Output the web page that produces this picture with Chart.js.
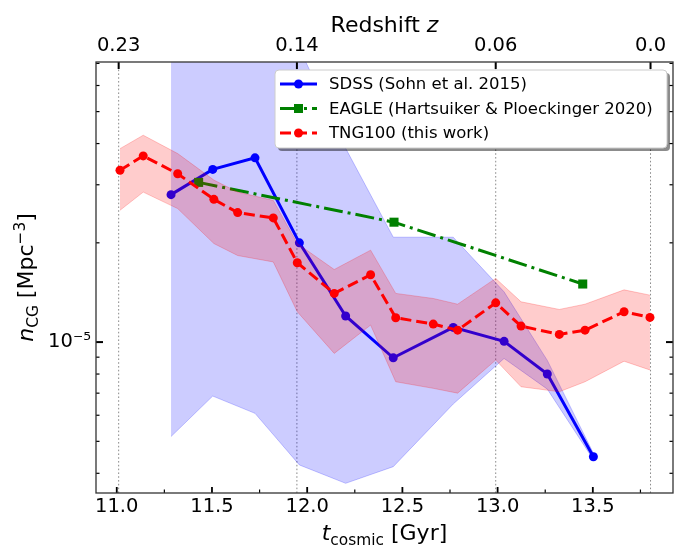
<!DOCTYPE html>
<html>
<head>
<meta charset="utf-8">
<script src="https://cdn.jsdelivr.net/npm/chart.js@4.4.1/dist/chart.umd.min.js"></script>
<style>
  html, body { margin: 0; padding: 0; background: #fff; }
  canvas { display: block; }
</style>
</head>
<body>
<canvas id="cgChart" width="675" height="547"></canvas>
<script>
// values (t in Gyr, n in Mpc^-3)
const tSDSS = [11.285, 11.504, 11.726, 11.959, 12.202, 12.452, 12.767, 13.034, 13.261, 13.503];
const nSDSS = [2.80e-5, 3.34e-5, 3.62e-5, 2.00e-5, 1.20e-5, 8.96e-6, 1.108e-5, 1.005e-5, 8.0e-6, 4.49e-6];
const nSDSSlo = [5.17e-6, 6.86e-6, 6.08e-6, 4.24e-6, 3.73e-6, 4.19e-6, 6.49e-6, 8.92e-6, 7.2e-6, 4.4e-6];
const nSDSShi = [1.5e-4, 1.5e-4, 1.5e-4, 7.8e-5, 3.87e-5, 2.08e-5, 2.08e-5, 1.42e-5, 8.8e-6, 4.6e-6];

const tEAGLE = [11.43, 12.456, 13.447];
const nEAGLE = [3.05e-5, 2.31e-5, 1.50e-5];

const tTNG = [11.017, 11.139, 11.32, 11.51, 11.635, 11.822, 11.948, 12.142, 12.333, 12.465, 12.662, 12.79, 12.99, 13.123, 13.324, 13.459, 13.664, 13.80];
const nTNG = [3.32e-5, 3.67e-5, 3.24e-5, 2.71e-5, 2.47e-5, 2.38e-5, 1.74e-5, 1.405e-5, 1.60e-5, 1.185e-5, 1.134e-5, 1.087e-5, 1.315e-5, 1.118e-5, 1.055e-5, 1.087e-5, 1.236e-5, 1.188e-5];
const nTNGhi = [3.86e-5, 4.24e-5, 3.73e-5, 3.1e-5, 2.85e-5, 2.69e-5, 1.99e-5, 1.66e-5, 1.90e-5, 1.405e-5, 1.356e-5, 1.303e-5, 1.56e-5, 1.325e-5, 1.256e-5, 1.303e-5, 1.44e-5, 1.388e-5];
const nTNGlo = [2.51e-5, 2.85e-5, 2.54e-5, 1.99e-5, 1.83e-5, 1.75e-5, 1.236e-5, 9.24e-6, 1.126e-5, 7.58e-6, 7.24e-6, 7.0e-6, 8.82e-6, 7.32e-6, 7.07e-6, 7.58e-6, 8.75e-6, 8.23e-6];

const seriesLabels = ['SDSS (Sohn et al. 2015)', 'EAGLE (Hartsuiker & Ploeckinger 2020)', 'TNG100 (this work)'];

const xTicks = [11.0, 11.5, 12.0, 12.5, 13.0, 13.5];
const xMinorTicks = [11.25, 11.75, 12.25, 12.75, 13.25, 13.75];
const zTickPos = [11.01, 11.946, 12.99, 13.803];
const zTickLabels = ['0.23', '0.14', '0.06', '0.0'];
const yTicks = [1e-5];
const yMinorTicks = [4e-6, 5e-6, 6e-6, 7e-6, 8e-6, 9e-6, 2e-5, 3e-5, 4e-5, 5e-5, 6e-5, 7e-5];

const FONT = '"DejaVu Sans", sans-serif';
const pts = (xs, ys) => xs.map((x, i) => ({ x: x, y: ys[i] }));
const sup = { '-': '\u207B', '0': '\u2070', '1': '\u00B9', '2': '\u00B2', '3': '\u00B3', '4': '\u2074', '5': '\u2075', '6': '\u2076', '7': '\u2077', '8': '\u2078', '9': '\u2079' };

function richText(ctx, parts, x, y) {
  let w = 0;
  parts.forEach(p => { ctx.font = p[2] + ' ' + p[1] + 'px ' + FONT; p.w = ctx.measureText(p[0]).width; w += p.w; });
  let cx = x - w / 2;
  ctx.textAlign = 'left';
  ctx.textBaseline = 'alphabetic';
  parts.forEach(p => { ctx.font = p[2] + ' ' + p[1] + 'px ' + FONT; ctx.fillText(p[0], cx, y + p[3]); cx += p.w; });
}

function line(ctx, x1, y1, x2, y2, w) {
  ctx.lineWidth = w;
  ctx.beginPath();
  ctx.moveTo(x1, y1);
  ctx.lineTo(x2, y2);
  ctx.stroke();
}

function roundRect(ctx, x, y, w, h, r) {
  ctx.beginPath();
  ctx.moveTo(x + r, y);
  ctx.arcTo(x + w, y, x + w, y + h, r);
  ctx.arcTo(x + w, y + h, x, y + h, r);
  ctx.arcTo(x, y + h, x, y, r);
  ctx.arcTo(x, y, x + w, y, r);
  ctx.closePath();
}

// no extra side padding from edge tick labels
function fixBox(size) {
  return s => {
    if (s.isHorizontal()) s.height = size; else s.width = size;
    s.paddingLeft = 0; s.paddingRight = 0; s.paddingTop = 0; s.paddingBottom = 0;
  };
}

const decor = {
  id: 'decor',
  beforeDatasetsDraw(chart) {
    const { ctx, chartArea: a, scales } = chart;
    ctx.save();
    ctx.strokeStyle = 'rgba(110,110,110,0.8)';
    ctx.setLineDash([1.6, 2.2]);
    zTickPos.forEach(v => {
      const px = scales.x2.getPixelForValue(v);
      line(ctx, px, a.top, px, a.bottom, 1);
    });
    ctx.restore();
  },
  afterDatasetsDraw(chart) {
    const { ctx, chartArea: a, scales } = chart;
    ctx.save();
    ctx.strokeStyle = '#000';
    xTicks.forEach(v => { const px = scales.x.getPixelForValue(v); line(ctx, px, a.bottom, px, a.bottom - 6, 1.8); });
    xMinorTicks.forEach(v => { const px = scales.x.getPixelForValue(v); line(ctx, px, a.bottom, px, a.bottom - 3.5, 1.2); });
    zTickPos.forEach(v => { const px = scales.x2.getPixelForValue(v); line(ctx, px, a.top, px, a.top + 7, 2); });
    yTicks.forEach(v => {
      const py = scales.y.getPixelForValue(v);
      line(ctx, a.left, py, a.left + 7, py, 2);
      line(ctx, a.right, py, a.right - 7, py, 2);
    });
    yMinorTicks.forEach(v => {
      const py = scales.y.getPixelForValue(v);
      line(ctx, a.left, py, a.left + 3.5, py, 1.2);
      line(ctx, a.right, py, a.right - 3.5, py, 1.2);
    });
    ctx.strokeStyle = '#333';
    ctx.lineWidth = 1.3;
    ctx.strokeRect(a.left, a.top, a.right - a.left, a.bottom - a.top);
    ctx.restore();
  },
  afterDraw(chart) {
    const { ctx, chartArea: a } = chart;
    const cx = (a.left + a.right) / 2;
    const cy = (a.top + a.bottom) / 2;
    ctx.save();
    ctx.fillStyle = '#000';
    richText(ctx, [['Redshift ', 22, 'normal', 0], ['z', 22, 'italic', 0]], cx, 31.7);
    richText(ctx, [['t', 22, 'italic', 0], ['cosmic', 15.4, 'normal', 4.6], [' [Gyr]', 22, 'normal', 0]], cx, 540);
    ctx.save();
    ctx.translate(33, cy);
    ctx.rotate(-Math.PI / 2);
    richText(ctx, [['n', 22, 'italic', 0], ['CG', 15.4, 'normal', 4.6], [' [Mpc', 22, 'normal', 0], ['\u22123', 15.4, 'normal', -8.5], [']', 22, 'normal', 0]], 0, 0);
    ctx.restore();

    // legend box
    const bx = 275, by = 70, bw = 392, bh = 78;
    ctx.fillStyle = 'rgba(0,0,0,0.45)';
    roundRect(ctx, bx + 3, by + 3, bw, bh, 4);
    ctx.fill();
    ctx.fillStyle = '#fff';
    ctx.strokeStyle = '#cccccc';
    ctx.lineWidth = 1;
    roundRect(ctx, bx, by, bw, bh, 4);
    ctx.fill();
    ctx.stroke();

    const rows = [
      { y: 84, color: '#0000ff', dash: [], marker: 'circle', text: seriesLabels[0] },
      { y: 108.5, color: '#008000', dash: [19, 5, 3, 5], marker: 'square', text: seriesLabels[1] },
      { y: 133, color: '#ff0000', dash: [11, 5], marker: 'circle', text: seriesLabels[2] }
    ];
    rows.forEach(r => {
      ctx.strokeStyle = r.color;
      ctx.fillStyle = r.color;
      ctx.setLineDash(r.dash);
      line(ctx, 280, r.y, 317, r.y, 3);
      ctx.setLineDash([]);
      if (r.marker === 'circle') {
        ctx.beginPath();
        ctx.arc(298.5, r.y, 4.5, 0, Math.PI * 2);
        ctx.fill();
      } else {
        ctx.fillRect(298.5 - 4.5, r.y - 4.5, 9, 9);
      }
      ctx.fillStyle = '#000';
      ctx.font = '16.5px ' + FONT;
      ctx.textAlign = 'left';
      ctx.textBaseline = 'middle';
      ctx.fillText(r.text, 329, r.y + 1);
    });
    ctx.restore();
  }
};

const xMin = 10.891, xMax = 13.921;
const yMin = 3.486e-6, yMax = 7.07e-5;
const tickFont = { family: FONT, size: 19.5 };

new Chart(document.getElementById('cgChart').getContext('2d'), {
  type: 'line',
  data: {
    datasets: [
      { label: seriesLabels[2], data: pts(tTNG, nTNG), borderColor: '#ff0000', backgroundColor: '#ff0000',
        borderWidth: 3, borderDash: [11, 5], pointRadius: 4.5, pointBorderWidth: 0, fill: false },
      { label: 'TNG upper', data: pts(tTNG, nTNGhi), borderColor: 'rgba(255,0,0,0.22)', backgroundColor: 'rgba(255,0,0,0.2)',
        borderWidth: 1, pointRadius: 0, fill: '+1' },
      { label: 'TNG lower', data: pts(tTNG, nTNGlo), borderColor: 'rgba(255,0,0,0.22)', borderWidth: 1, pointRadius: 0, fill: false },
      { label: seriesLabels[1], data: pts(tEAGLE, nEAGLE), borderColor: '#008000', backgroundColor: '#008000',
        borderWidth: 3, borderDash: [19, 5, 3, 5], pointStyle: 'rect', pointRadius: 6.4, pointBorderWidth: 0, fill: false },
      { label: seriesLabels[0], data: pts(tSDSS, nSDSS), borderColor: '#0000ff', backgroundColor: '#0000ff',
        borderWidth: 3, pointRadius: 4.5, pointBorderWidth: 0, fill: false },
      { label: 'SDSS upper', data: pts(tSDSS, nSDSShi), borderColor: 'rgba(0,0,255,0.22)', backgroundColor: 'rgba(0,0,255,0.2)',
        borderWidth: 1, pointRadius: 0, fill: '+1' },
      { label: 'SDSS lower', data: pts(tSDSS, nSDSSlo), borderColor: 'rgba(0,0,255,0.22)', borderWidth: 1, pointRadius: 0, fill: false }
    ]
  },
  options: {
    responsive: false,
    animation: false,
    devicePixelRatio: 1,
    layout: { autoPadding: false, padding: { left: 0, right: 2, top: 0, bottom: 0 } },
    elements: { line: { tension: 0 } },
    plugins: { legend: { display: false }, tooltip: { enabled: false } },
    scales: {
      x: {
        type: 'linear', position: 'bottom', min: xMin, max: xMax,
        grid: { display: false, drawTicks: false }, border: { display: false },
        afterBuildTicks: s => { s.ticks = xTicks.map(v => ({ value: v })); },
        afterFit: fixBox(54),
        ticks: { padding: 2, color: '#000', font: tickFont, maxRotation: 0, autoSkip: false, callback: v => v.toFixed(1) }
      },
      x2: {
        type: 'linear', position: 'top', min: xMin, max: xMax,
        grid: { display: false, drawTicks: false }, border: { display: false },
        afterBuildTicks: s => { s.ticks = zTickPos.map(v => ({ value: v })); },
        afterFit: fixBox(62),
        ticks: { padding: 4, color: '#000', font: tickFont, maxRotation: 0, autoSkip: false, callback: (v, i) => zTickLabels[i] }
      },
      y: {
        type: 'logarithmic', min: yMin, max: yMax,
        grid: { display: false, drawTicks: false }, border: { display: false },
        afterBuildTicks: s => { s.ticks = yTicks.map(v => ({ value: v })); },
        afterFit: fixBox(96),
        ticks: { padding: 5, color: '#000', font: tickFont, autoSkip: false,
          callback: v => '10' + String(Math.round(Math.log10(v))).split('').map(c => sup[c]).join('') }
      }
    }
  },
  plugins: [decor]
});
</script>
</body>
</html>
